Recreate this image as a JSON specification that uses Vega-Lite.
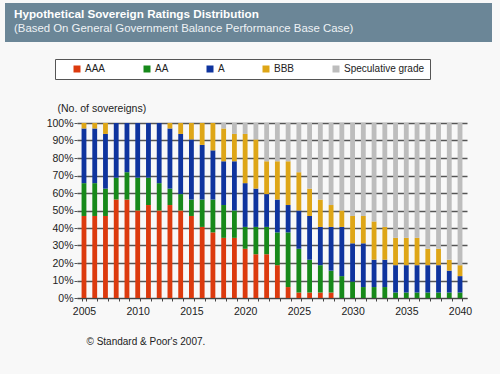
{
  "$schema": "https://vega.github.io/schema/vega-lite/v6.json",
  "background": "#f8f8f8",
  "padding": {"left": 5, "top": 3, "right": 8, "bottom": 28},
  "spacing": 16,
  "vconcat": [
    {
      "width": 487,
      "height": 39,
      "view": {"fill": "#6b8697", "stroke": null},
      "data": {"values": [{"panel": "header"}]},
      "mark": {"type": "rect", "color": "#6b8697"},
      "title": {
        "text": "Hypothetical Sovereign Ratings Distribution",
        "subtitle": "(Based On General Government Balance Performance Base Case)",
        "anchor": "start",
        "frame": "group",
        "offset": -31,
        "dx": 9,
        "color": "#ffffff",
        "subtitleColor": "#eef2f5",
        "font": "Liberation Sans",
        "subtitleFont": "Liberation Sans",
        "fontSize": 11.7,
        "subtitleFontSize": 11.4,
        "fontWeight": "bold",
        "subtitlePadding": 2
      }
    },
    {
      "resolve": {"scale": {"color": "independent"}, "legend": {"color": "independent"}},
      "spacing": 0,
      "hconcat": [
        {
          "width": 1,
          "height": 1,
          "view": {"stroke": null},
          "data": {"values": [{"panel": "spacer"}]},
          "mark": {"type": "rect", "opacity": 0}
        },
        {
          "width": 390,
          "height": 175,
          "data": {
            "values": [
              {"year": 2005, "AAA": 15, "AA": 6, "A": 10, "BBB": 1, "Speculative grade": 0},
              {"year": 2006, "AAA": 15, "AA": 6, "A": 10, "BBB": 1, "Speculative grade": 0},
              {"year": 2007, "AAA": 15, "AA": 5, "A": 10, "BBB": 2, "Speculative grade": 0},
              {"year": 2008, "AAA": 18, "AA": 4, "A": 10, "BBB": 0, "Speculative grade": 0},
              {"year": 2009, "AAA": 18, "AA": 5, "A": 9, "BBB": 0, "Speculative grade": 0},
              {"year": 2010, "AAA": 16, "AA": 6, "A": 10, "BBB": 0, "Speculative grade": 0},
              {"year": 2011, "AAA": 17, "AA": 5, "A": 10, "BBB": 0, "Speculative grade": 0},
              {"year": 2012, "AAA": 16, "AA": 5, "A": 11, "BBB": 0, "Speculative grade": 0},
              {"year": 2013, "AAA": 17, "AA": 3, "A": 11, "BBB": 1, "Speculative grade": 0},
              {"year": 2014, "AAA": 16, "AA": 3, "A": 11, "BBB": 2, "Speculative grade": 0},
              {"year": 2015, "AAA": 15, "AA": 3, "A": 11, "BBB": 3, "Speculative grade": 0},
              {"year": 2016, "AAA": 13, "AA": 5, "A": 10, "BBB": 4, "Speculative grade": 0},
              {"year": 2017, "AAA": 12, "AA": 6, "A": 9, "BBB": 5, "Speculative grade": 0},
              {"year": 2018, "AAA": 11, "AA": 6, "A": 8, "BBB": 6, "Speculative grade": 1},
              {"year": 2019, "AAA": 11, "AA": 5, "A": 9, "BBB": 5, "Speculative grade": 2},
              {"year": 2020, "AAA": 9, "AA": 4, "A": 8, "BBB": 9, "Speculative grade": 2},
              {"year": 2021, "AAA": 8, "AA": 5, "A": 7, "BBB": 9, "Speculative grade": 3},
              {"year": 2022, "AAA": 8, "AA": 5, "A": 6, "BBB": 6, "Speculative grade": 7},
              {"year": 2023, "AAA": 6, "AA": 6, "A": 6, "BBB": 7, "Speculative grade": 7},
              {"year": 2024, "AAA": 2, "AA": 10, "A": 5, "BBB": 8, "Speculative grade": 7},
              {"year": 2025, "AAA": 1, "AA": 8, "A": 7, "BBB": 7, "Speculative grade": 9},
              {"year": 2026, "AAA": 1, "AA": 6, "A": 8, "BBB": 5, "Speculative grade": 12},
              {"year": 2027, "AAA": 1, "AA": 5, "A": 7, "BBB": 5, "Speculative grade": 14},
              {"year": 2028, "AAA": 1, "AA": 4, "A": 8, "BBB": 4, "Speculative grade": 15},
              {"year": 2029, "AAA": 0, "AA": 4, "A": 9, "BBB": 3, "Speculative grade": 16},
              {"year": 2030, "AAA": 0, "AA": 3, "A": 7, "BBB": 5, "Speculative grade": 17},
              {"year": 2031, "AAA": 0, "AA": 2, "A": 8, "BBB": 5, "Speculative grade": 17},
              {"year": 2032, "AAA": 0, "AA": 2, "A": 5, "BBB": 7, "Speculative grade": 18},
              {"year": 2033, "AAA": 0, "AA": 2, "A": 5, "BBB": 6, "Speculative grade": 19},
              {"year": 2034, "AAA": 0, "AA": 1, "A": 5, "BBB": 5, "Speculative grade": 21},
              {"year": 2035, "AAA": 0, "AA": 1, "A": 5, "BBB": 5, "Speculative grade": 21},
              {"year": 2036, "AAA": 0, "AA": 1, "A": 5, "BBB": 5, "Speculative grade": 21},
              {"year": 2037, "AAA": 0, "AA": 1, "A": 5, "BBB": 3, "Speculative grade": 23},
              {"year": 2038, "AAA": 0, "AA": 1, "A": 5, "BBB": 3, "Speculative grade": 23},
              {"year": 2039, "AAA": 0, "AA": 1, "A": 4, "BBB": 2, "Speculative grade": 25},
              {"year": 2040, "AAA": 0, "AA": 1, "A": 3, "BBB": 2, "Speculative grade": 26}
            ]
          },
          "transform": [
            {"fold": ["AAA", "AA", "A", "BBB", "Speculative grade"], "as": ["rating", "count"]}
          ],
          "mark": {"type": "bar"},
          "encoding": {
            "x": {
              "field": "year",
              "type": "ordinal",
              "scale": {"paddingInner": 0.55, "paddingOuter": 0.425},
              "axis": {
                "title": "© Standard & Poor's 2007.",
                "titleX": 9,
                "titleY": 46,
                "titleAlign": "left",
                "titleBaseline": "alphabetic",
                "titleFont": "Liberation Sans",
                "titleFontSize": 10,
                "titleFontWeight": "normal",
                "titleColor": "#222222",
                "labelExpr": "datum.value % 5 == 0 ? datum.label : ''",
                "labelAngle": 0,
                "labelOverlap": false,
                "labelFont": "Liberation Sans",
                "labelFontSize": 10.5,
                "labelColor": "#222222",
                "labelPadding": 5,
                "tickBand": "extent",
                "tickSize": 3,
                "tickColor": "#444444",
                "domain": true,
                "domainColor": "#444444",
                "grid": false
              }
            },
            "y": {
              "field": "count",
              "type": "quantitative",
              "stack": "normalize",
              "scale": {"domain": [0, 1]},
              "axis": {
                "title": "(No. of sovereigns)",
                "titleAngle": 0,
                "titleAlign": "left",
                "titleBaseline": "alphabetic",
                "titleX": -20,
                "titleY": -12,
                "titleFont": "Liberation Sans",
                "titleFontSize": 10.5,
                "titleFontWeight": "normal",
                "titleColor": "#222222",
                "format": ".0%",
                "values": [0, 0.1, 0.2, 0.3, 0.4, 0.5, 0.6, 0.7, 0.8, 0.9, 1],
                "labelFont": "Liberation Sans",
                "labelFontSize": 10.5,
                "labelColor": "#222222",
                "labelPadding": 1,
                "domain": false,
                "ticks": true,
                "tickSize": 3,
                "tickColor": "#555555",
                "grid": true,
                "gridColor": "#555555",
                "gridWidth": 1.3,
                "minExtent": 71
              }
            },
            "color": {
              "field": "rating",
              "type": "nominal",
              "scale": {
                "domain": ["AAA", "AA", "A", "BBB", "Speculative grade"],
                "range": ["#dc3a0e", "#17891a", "#0f349e", "#dea617", "#bdbdbd"]
              },
              "legend": {
                "title": null,
                "orient": "none",
                "legendX": -22,
                "legendY": -64,
                "direction": "horizontal",
                "symbolType": "square",
                "symbolSize": 49,
                "symbolStrokeWidth": 0,
                "symbolOffset": 12,
                "labelOffset": 3,
                "labelFont": "Liberation Sans",
                "labelFontSize": 10,
                "labelColor": "#222222",
                "columnPadding": 24,
                "padding": 5,
                "strokeColor": "#555555",
                "fillColor": "#ffffff"
              }
            },
            "order": {"field": "year", "type": "quantitative"}
          }
        }
      ]
    }
  ],
  "config": {
    "view": {"stroke": null},
    "font": "Liberation Sans"
  }
}
